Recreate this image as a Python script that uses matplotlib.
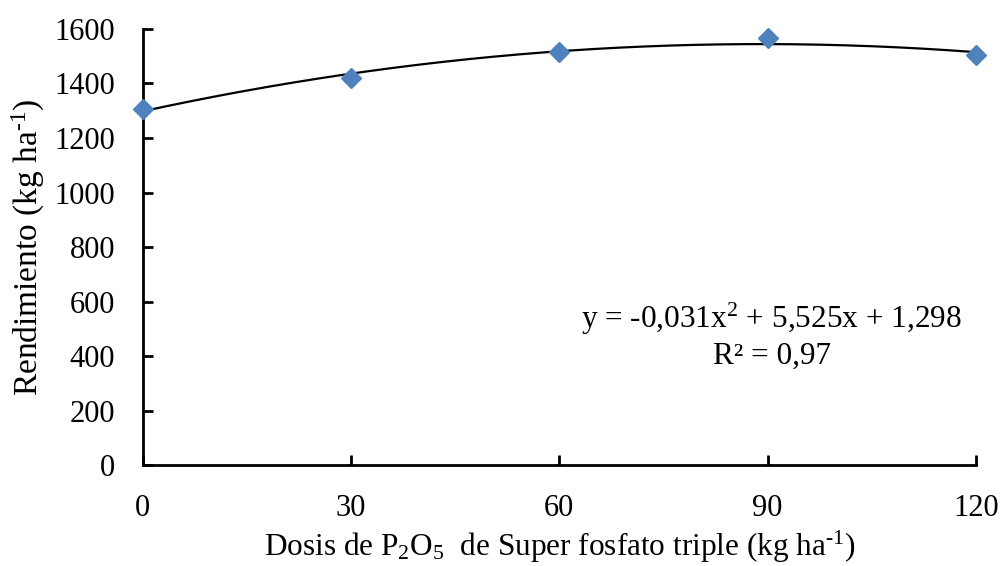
import numpy as np
import matplotlib.pyplot as plt

plt.rcParams['font.family'] = 'Liberation Serif'
plt.rcParams['mathtext.fontset'] = 'custom'
plt.rcParams['mathtext.rm'] = 'Liberation Serif'

dosis = [0, 30, 60, 90, 120]
rendimiento = [1308, 1421, 1514, 1566, 1505]
coef = [-0.031, 5.525, 1298]   # trend line shown on the chart
yticks = [0, 200, 400, 600, 800, 1000, 1200, 1400, 1600]
xticks = [0, 30, 60, 90, 120]

fig = plt.figure(figsize=(10.06, 5.66), dpi=100)
ax = fig.add_axes([0.142, 0.178, 0.828, 0.771])

xs = np.linspace(0, 120, 200)
ax.plot(xs, np.polyval(coef, xs), color='black', lw=1.6, zorder=2)
ax.plot(dosis, rendimiento, ls='none', marker='D', ms=10.5,
        color='#4F81BD', mec='#4F81BD', zorder=3, clip_on=False)

ax.set_xlim(0, 120)
ax.set_ylim(0, 1600)
ax.set_xticks(xticks)
ax.set_yticks(yticks)
for s in ['top', 'right']:
    ax.spines[s].set_visible(False)
for s in ['left', 'bottom']:
    ax.spines[s].set_linewidth(2)
ax.tick_params(axis='both', direction='in', length=7, width=2, labelsize=22)
ax.tick_params(axis='y', pad=20)
ax.tick_params(axis='x', pad=21)

ax.set_xlabel(r'Dosis de $\mathregular{P_2O_5}$  de Super fosfato triple (kg ha$\mathregular{^{\text{-}1}}$)',
              fontsize=22.5, labelpad=4)
ax.set_ylabel(r'Rendimiento (kg ha$\mathregular{^{\text{-}1}}$)', fontsize=24, labelpad=5)

ax.text(0.755, 0.297, 'y = -0,031x$\\mathregular{^2}$ + 5,525x + 1,298\nR² = 0,97',
        transform=ax.transAxes, ha='center', va='center', fontsize=22.5,
        linespacing=1.2)

fig.savefig('out.png', dpi=100)
